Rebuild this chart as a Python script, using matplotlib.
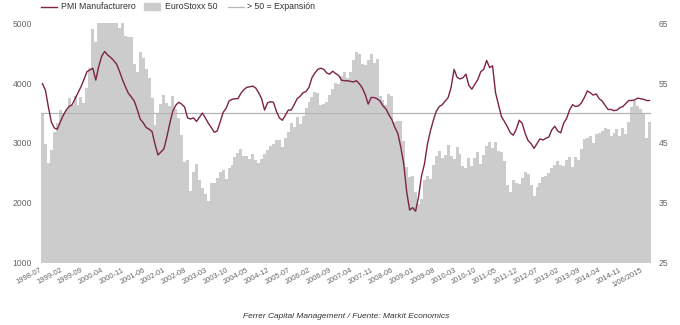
import matplotlib
matplotlib.use("Agg")
import matplotlib.pyplot as plt
import matplotlib.transforms as mtransforms
from matplotlib.lines import Line2D
from matplotlib.patches import Rectangle
import numpy as np

plt.rcParams['font.family'] = ['Liberation Sans', 'DejaVu Sans']

# EuroStoxx 50, monthly, 1998-07 .. 2015-08
eurostoxx = [
    3480, 2977, 2671, 2888, 3178, 3342,
    3547, 3484, 3559, 3757, 3629, 3788, 3638, 3769, 3669, 3922, 4259, 4904,
    4685, 5155, 5249, 5303, 5200, 5145, 5122, 5175, 4915, 5057, 4790, 4772,
    4779, 4318, 4185, 4526, 4426, 4243, 4091, 3744, 3297, 3478, 3659, 3806,
    3670, 3624, 3784, 3574, 3425, 3133, 2686, 2710, 2204, 2518, 2657, 2386,
    2249, 2141, 2036, 2324, 2331, 2419, 2519, 2557, 2395, 2575, 2631, 2761,
    2839, 2894, 2787, 2788, 2737, 2811, 2720, 2671, 2726, 2811, 2876, 2951,
    2984, 3058, 3056, 2930, 3076, 3182, 3326, 3263, 3429, 3320, 3447, 3579,
    3692, 3775, 3854, 3839, 3637, 3649, 3692, 3809, 3900, 4005, 3988, 4120,
    4178, 4088, 4182, 4392, 4513, 4490, 4316, 4300, 4381, 4489, 4337, 4400,
    3792, 3724, 3628, 3826, 3777, 3353, 3367, 3366, 3038, 2592, 2430, 2448,
    2184, 1977, 2071, 2375, 2451, 2401, 2638, 2775, 2873, 2743, 2797, 2966,
    2776, 2728, 2931, 2817, 2610, 2574, 2742, 2622, 2748, 2845, 2651, 2793,
    2954, 3013, 2911, 3011, 2862, 2849, 2700, 2302, 2180, 2386, 2330, 2317,
    2416, 2512, 2477, 2306, 2118, 2265, 2325, 2440, 2455, 2503, 2575, 2636,
    2703, 2633, 2624, 2712, 2769, 2603, 2768, 2722, 2893, 3068, 3086, 3109,
    2998, 3149, 3162, 3198, 3244, 3228, 3116, 3173, 3226, 3113, 3251, 3146,
    3351, 3599, 3697, 3616, 3570, 3500, 3080, 3345,
]

# PMI Manufacturero, monthly, same months
pmi = [
    54.9, 53.8, 51.0, 48.5, 47.5, 47.3, 48.5, 49.6, 50.5, 51.1, 51.4, 52.4,
    53.4, 54.4, 55.6, 56.9, 57.2, 57.5, 55.5, 57.8, 59.5, 60.3, 59.7, 59.3,
    58.8, 58.2, 57.0, 55.6, 54.4, 53.3, 52.7, 52.0, 50.6, 49.0, 48.4, 47.6,
    47.3, 46.9, 44.8, 43.0, 43.5, 44.0, 46.0, 48.3, 50.3, 51.3, 51.8, 51.5,
    51.0, 49.2, 49.0, 49.2, 48.6, 49.3, 50.0, 49.2, 48.3, 47.6, 46.8, 47.0,
    48.5, 50.1, 50.8, 52.0, 52.3, 52.4, 52.4, 53.3, 53.9, 54.3, 54.4, 54.5,
    54.2, 53.4, 52.4, 50.5, 51.7, 51.9, 51.8, 50.3, 49.2, 48.8, 49.6, 50.5,
    50.5, 51.4, 52.4, 52.8, 53.4, 53.6, 54.3, 55.9, 56.7, 57.3, 57.5, 57.3,
    56.7, 56.5, 57.0, 56.6, 56.3, 55.5, 55.4, 55.4, 55.3, 55.2, 55.4, 54.9,
    54.2, 53.1, 51.5, 52.6, 52.6, 52.4, 52.0, 51.2, 50.7, 49.7, 48.9, 47.6,
    46.6, 44.3, 41.5, 36.8, 33.8, 34.2, 33.6, 36.0, 39.5, 41.5, 44.8, 47.0,
    48.8, 50.3, 51.1, 51.4, 52.0, 52.6, 54.3, 57.3, 56.0, 55.7, 55.9, 56.5,
    54.6, 54.0, 54.8, 55.6, 56.9, 57.3, 58.8, 57.6, 57.9, 53.4, 51.4, 49.4,
    48.6, 47.7, 46.7, 46.3, 47.3, 48.8, 48.3, 46.6, 45.4, 44.9, 44.1, 44.9,
    45.7, 45.5, 45.8, 46.0, 47.2, 47.8, 47.0, 46.7, 48.3, 49.1, 50.5, 51.4,
    51.1, 51.2, 51.7, 52.6, 53.7, 53.4, 53.0, 53.2, 52.4, 52.0, 51.3, 50.6,
    50.6, 50.4, 50.5, 50.9, 51.1, 51.6, 52.1, 52.1, 52.2, 52.5, 52.4, 52.3,
    52.1, 52.1,
]

tick_labels = [
    "1998-07", "1999-02", "1999-09", "2000-04", "2000-11", "2001-06", "2002-01",
    "2002-08", "2003-03", "2003-10", "2004-05", "2004-12", "2005-07", "2006-02",
    "2006-09", "2007-04", "2007-11", "2008-06", "2009-01", "2009-08", "2010-03",
    "2010-10", "2011-05", "2011-12", "2012-07", "2013-02", "2013-09", "2014-04",
    "2014-11", "1/06/2015",
]
threshold = 50

bar_color = "#cccccc"
line_color = "#7d2248"
thr_color = "#b5b5b5"
tick_color = "#666666"
text_color = "#333333"

fig = plt.figure(figsize=(6.8, 3.25), dpi=100)
ax = fig.add_axes([41 / 680, 1 - 262.7 / 325, 610 / 680, (262.7 - 23.3) / 325])
ax2 = ax.twinx()

x = np.arange(len(eurostoxx))
ax.bar(x, eurostoxx, width=1.0, color=bar_color, edgecolor="none", linewidth=0, zorder=1)
ax.set_ylim(1000, 5000)
ax.set_xlim(-0.5, len(eurostoxx) - 0.5)
ax.set_yticks([1000, 2000, 3000, 4000, 5000])

ax2.axhline(threshold, color=thr_color, lw=0.9, zorder=2)
ax2.plot(x, pmi, color=line_color, lw=1.0, zorder=3)
ax2.set_ylim(25, 65)
ax2.set_yticks([25, 35, 45, 55, 65])

for a in (ax, ax2):
    for s in a.spines.values():
        s.set_visible(False)
    a.tick_params(axis="both", length=0, colors=tick_color)

ax.tick_params(axis="y", labelsize=6.2, pad=6.5)
ax2.tick_params(axis="y", labelsize=6.2, pad=5.5)

tick_pos = np.arange(0, len(eurostoxx), 7)[: len(tick_labels)]
ax.set_xticks(tick_pos)
ax.set_xticklabels(tick_labels, rotation=28, ha="right", rotation_mode="anchor",
                   fontsize=5.4, color=tick_color)
ax.tick_params(axis="x", pad=3)
offset = mtransforms.ScaledTranslation(-3 / 100, 0, fig.dpi_scale_trans)
for lab in ax.get_xticklabels():
    lab.set_transform(lab.get_transform() + offset)

# Legend (manual, figure pixel coords)
def fx(px):
    return px / 680

def fy(py):
    return 1 - py / 325

ly = 6.5
fig.add_artist(Line2D([fx(41), fx(57)], [fy(ly), fy(ly)], color=line_color, lw=1.0,
                      transform=fig.transFigure))
fig.text(fx(61), fy(ly), "PMI Manufacturero", fontsize=6.3, color=text_color,
         va="center", ha="left")
fig.add_artist(Rectangle((fx(144), fy(ly + 3.2)), fx(16), 6.4 / 325, color=bar_color,
                         transform=fig.transFigure))
fig.text(fx(165), fy(ly), "EuroStoxx 50", fontsize=6.3, color=text_color,
         va="center", ha="left")
fig.add_artist(Line2D([fx(228), fx(244)], [fy(ly), fy(ly)], color=thr_color, lw=0.9,
                      transform=fig.transFigure))
fig.text(fx(247), fy(ly), "> 50 = Expansión", fontsize=6.3, color=text_color,
         va="center", ha="left")

fig.text(fx(346), fy(316), "Ferrer Capital Management / Fuente: Markit Economics",
         fontsize=6.0, style="italic", color=text_color, ha="center", va="center")

fig.savefig("out.png", dpi=100)
